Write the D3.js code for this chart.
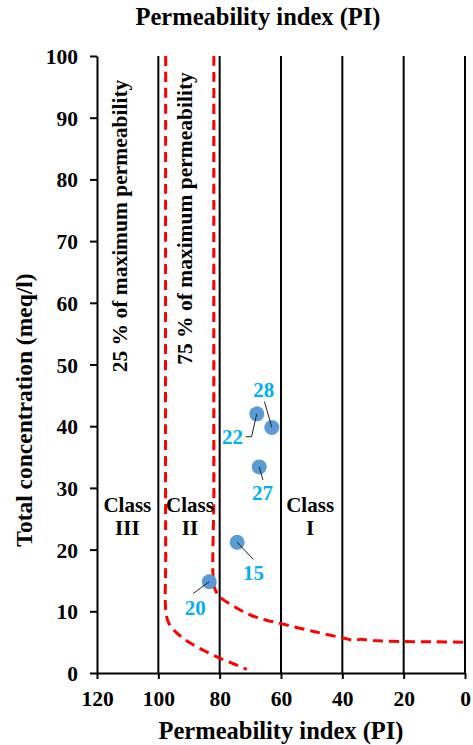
<!DOCTYPE html>
<html><head><meta charset="utf-8">
<script src="https://cdn.jsdelivr.net/npm/d3@7"></script>
<style>
body{margin:0;background:#fff;}
text{font-family:"Liberation Serif","Times New Roman",serif;font-weight:bold;}
</style></head>
<body><svg id="c" width="473" height="745"></svg>
<script>
// Data
const xTicks = [120, 100, 80, 60, 40, 20, 0];
const yTicks = [0, 10, 20, 30, 40, 50, 60, 70, 80, 90, 100];
const classLines = [100, 80, 60, 40, 20, 0];
const sampleIds = ["22", "28", "27", "15", "20"];
const samplePI = [67.9, 63.0, 67.1, 74.3, 83.4];
const sampleConc = [42.0, 39.8, 33.4, 21.2, 14.8];
// label anchor (centre, baseline) in data units
const labelPI = [75.8, 65.6, 66.0, 69.0, 88.0];
const labelConc = [37.1, 44.7, 28.0, 15.1, 9.4];
// leader line vertices (label side first), data units
const leaders = [
  [[71.5, 38.3], [69.6, 38.3]],
  [[65.4, 44.0]],
  [[65.9, 31.3]],
  [[69.0, 18.4]],
  [[88.6, 12.9]]
];
// 25% of maximum permeability curve
const curve25PI = [97.6, 97.6, 97.4, 96.3, 94.0, 91.8, 89.7, 85.0, 80.0, 75.5, 71.2];
const curve25C = [100, 20, 9.4, 7.8, 6.5, 5.6, 4.9, 3.6, 2.4, 1.5, 0.6];
// 75% of maximum permeability curve
const curve75PI = [81.9, 81.9, 81.8, 80.8, 79.9, 75.0, 70.0, 65.0, 60.0, 50.0, 40.0, 36.0, 34.0, 30.0, 20.0, 10.0, 0];
const curve75C = [100, 30, 14.0, 12.9, 12.3, 10.7, 9.4, 8.6, 8.0, 6.8, 5.7, 5.3, 5.45, 5.25, 5.1, 5.05, 5.0];
const classNames = [["Class", "III"], ["Class", "II"], ["Class", "I"]];
const classPI = [110.1, 89.7, 50.5];

const svg = d3.select("#c");
const m = {l: 97, r: 8, t: 56, b: 72};
const W = 473, H = 745;
const x = d3.scaleLinear().domain([120, 0]).range([m.l, W - m.r]);
const y = d3.scaleLinear().domain([0, 100]).range([H - m.b, m.t]);

// vertical class lines
svg.selectAll("line.cl").data(classLines).enter().append("line")
  .attr("x1", d => x(d)).attr("x2", d => x(d))
  .attr("y1", y(0)).attr("y2", y(100))
  .attr("stroke", "#000").attr("stroke-width", 2);

// axes
const xAxis = svg.append("g").attr("transform", `translate(0,${y(0)})`)
  .call(d3.axisBottom(x).tickValues(xTicks).tickSize(6).tickPadding(12).tickSizeOuter(0));
const yAxis = svg.append("g").attr("transform", `translate(${x(120)},0)`)
  .call(d3.axisLeft(y).tickValues(yTicks).tickSize(7).tickPadding(12).tickSizeOuter(0));
[xAxis, yAxis].forEach(g => {
  g.select(".domain").attr("stroke", "#000").attr("stroke-width", 2);
  g.selectAll(".tick line").attr("stroke", "#000").attr("stroke-width", 2);
  g.selectAll(".tick text").attr("font-size", 21.5).attr("fill", "#000")
    .attr("font-family", "'Liberation Serif','Times New Roman',serif").attr("font-weight", "bold");
});
yAxis.selectAll(".tick text").attr("dy", "0.35em");

// red dashed curves
const c25 = curve25PI.map((p, i) => [p, curve25C[i]]);
const c75 = curve75PI.map((p, i) => [p, curve75C[i]]);
[c25, c75].forEach(c => {
  svg.append("path").datum(c).attr("d", d3.line().x(d => x(d[0])).y(d => y(d[1])).curve(d3.curveCatmullRom.alpha(0.5)))
    .attr("fill", "none").attr("stroke", "#ff0000").attr("stroke-width", 3)
    .attr("stroke-dasharray", "10,6");
});

// rotated text
const rot = [["25 % of maximum permeability", 127, 226], ["75 % of maximum permeability", 192, 218.5]];
rot.forEach(r => {
  svg.append("text").attr("transform", `translate(${r[1]},${r[2]}) rotate(-90)`)
    .attr("text-anchor", "middle").attr("font-size", 21.5).text(r[0]);
});

// class labels
classNames.forEach((c, i) => {
  const t = svg.append("text").attr("text-anchor", "middle").attr("font-size", 21)
    .attr("x", x(classPI[i])).attr("y", 512);
  t.append("tspan").attr("x", x(classPI[i])).text(c[0]);
  t.append("tspan").attr("x", x(classPI[i])).attr("dy", 23).text(c[1]);
});

// points
svg.selectAll("circle").data(sampleIds).enter().append("circle")
  .attr("cx", (d, i) => x(samplePI[i])).attr("cy", (d, i) => y(sampleConc[i]))
  .attr("r", 7.5).attr("fill", "#5b9bd5");
// leaders (on top of points)
const ll = d3.line().x(d => x(d[0])).y(d => y(d[1]));
sampleIds.forEach((id, i) => {
  const pts = leaders[i].concat([[samplePI[i], sampleConc[i]]]);
  svg.append("path").attr("d", ll(pts)).attr("fill", "none")
    .attr("stroke", "#222").attr("stroke-width", 1);
});
// labels
sampleIds.forEach((id, i) => {
  svg.append("text").attr("x", x(labelPI[i])).attr("y", y(labelConc[i]))
    .attr("text-anchor", "middle").attr("font-size", 21).attr("fill", "#00b0f0").text(id);
});

// titles
svg.append("text").attr("x", 258).attr("y", 25).attr("text-anchor", "middle").attr("font-size", 24.5).text("Permeability index (PI)");
svg.append("text").attr("x", 281).attr("y", 739).attr("text-anchor", "middle").attr("font-size", 24.5).text("Permeability index (PI)");
svg.append("text").attr("transform", "translate(31.5,410) rotate(-90)").attr("text-anchor", "middle")
  .attr("font-size", 23.5).text("Total concentration (meq/l)");
</script></body></html>
